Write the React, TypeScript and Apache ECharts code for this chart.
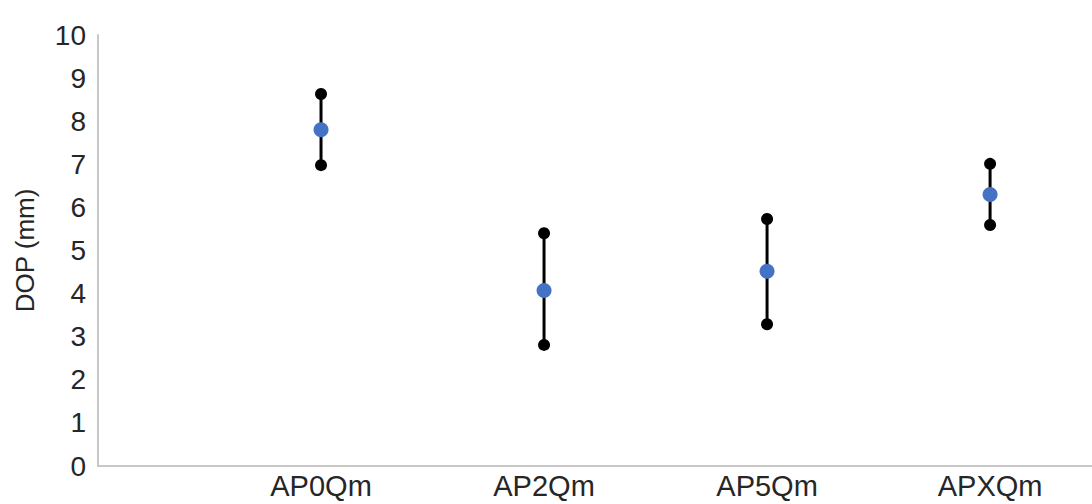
import React, { useEffect, useRef } from "react";
import * as echarts from "echarts";

const categories = ["AP0Qm", "AP2Qm", "AP5Qm", "APXQm"];
const meanValues = [7.8, 4.07, 4.52, 6.3];
const highValues = [8.63, 5.4, 5.73, 7.01];
const lowValues = [6.98, 2.81, 3.29, 5.59];
const yTicks = [0, 1, 2, 3, 4, 5, 6, 7, 8, 9, 10];

const FONT = "'Liberation Sans', Arial, sans-serif";

export default function App() {
  const ref = useRef<HTMLDivElement>(null);
  useEffect(() => {
    if (!ref.current) return;
    const chart = echarts.init(ref.current, undefined, { renderer: "svg" });
    const xs = categories.map((_, i) => i + 1);
    const rangeData = xs.map((x, i) => [x, lowValues[i], highValues[i]]);
    const endData: number[][] = [];
    xs.forEach((x, i) => {
      endData.push([x, highValues[i]]);
      endData.push([x, lowValues[i]]);
    });
    const meanData = xs.map((x, i) => [x, meanValues[i]]);
    chart.setOption({
      animation: false,
      backgroundColor: "#ffffff",
      grid: { left: 98, right: 0, top: 35, bottom: 38, containLabel: false },
      xAxis: {
        type: "value",
        min: 0,
        max: 4.457,
        interval: 1,
        splitLine: { show: false },
        axisTick: { show: false },
        axisLine: { show: true, lineStyle: { color: "#c8c8c8", width: 2 } },
        axisLabel: {
          showMaxLabel: false,
          margin: 5,
          fontFamily: FONT,
          fontSize: 29,
          color: "#262626",
          formatter: (v: number) => {
            const idx = Math.round(v) - 1;
            return idx >= 0 && idx < categories.length && Math.abs(v - Math.round(v)) < 1e-6
              ? categories[idx]
              : "";
          },
        },
      },
      yAxis: {
        type: "value",
        min: yTicks[0],
        max: yTicks[yTicks.length - 1],
        interval: 1,
        name: "DOP (mm)",
        nameLocation: "middle",
        nameGap: 60,
        nameTextStyle: { fontFamily: FONT, fontSize: 26, color: "#262626" },
        splitLine: { show: false },
        axisTick: { show: false },
        axisLine: { show: true, lineStyle: { color: "#c8c8c8", width: 2 } },
        axisLabel: {
          margin: 12,
          fontFamily: FONT,
          fontSize: 28,
          color: "#262626",
        },
      },
      series: [
        {
          type: "custom",
          data: rangeData,
          encode: { x: 0, y: [1, 2] },
          renderItem: (params: any, api: any) => {
            const x = api.value(0);
            const p1 = api.coord([x, api.value(1)]);
            const p2 = api.coord([x, api.value(2)]);
            return {
              type: "line",
              shape: { x1: p1[0], y1: p1[1], x2: p2[0], y2: p2[1] },
              style: { stroke: "#000000", lineWidth: 3 },
            };
          },
          z: 2,
        },
        {
          type: "scatter",
          data: endData,
          symbol: "circle",
          symbolSize: 12,
          itemStyle: { color: "#000000", opacity: 1 },
          z: 3,
        },
        {
          type: "scatter",
          data: meanData,
          symbol: "circle",
          symbolSize: 15,
          itemStyle: { color: "#4472c4", opacity: 1 },
          z: 4,
        },
      ],
    });
    return () => chart.dispose();
  }, []);
  return (
    <div
      ref={ref}
      style={{ position: "fixed", left: 0, top: 0, width: 1092, height: 504, background: "#fff" }}
    />
  );
}
